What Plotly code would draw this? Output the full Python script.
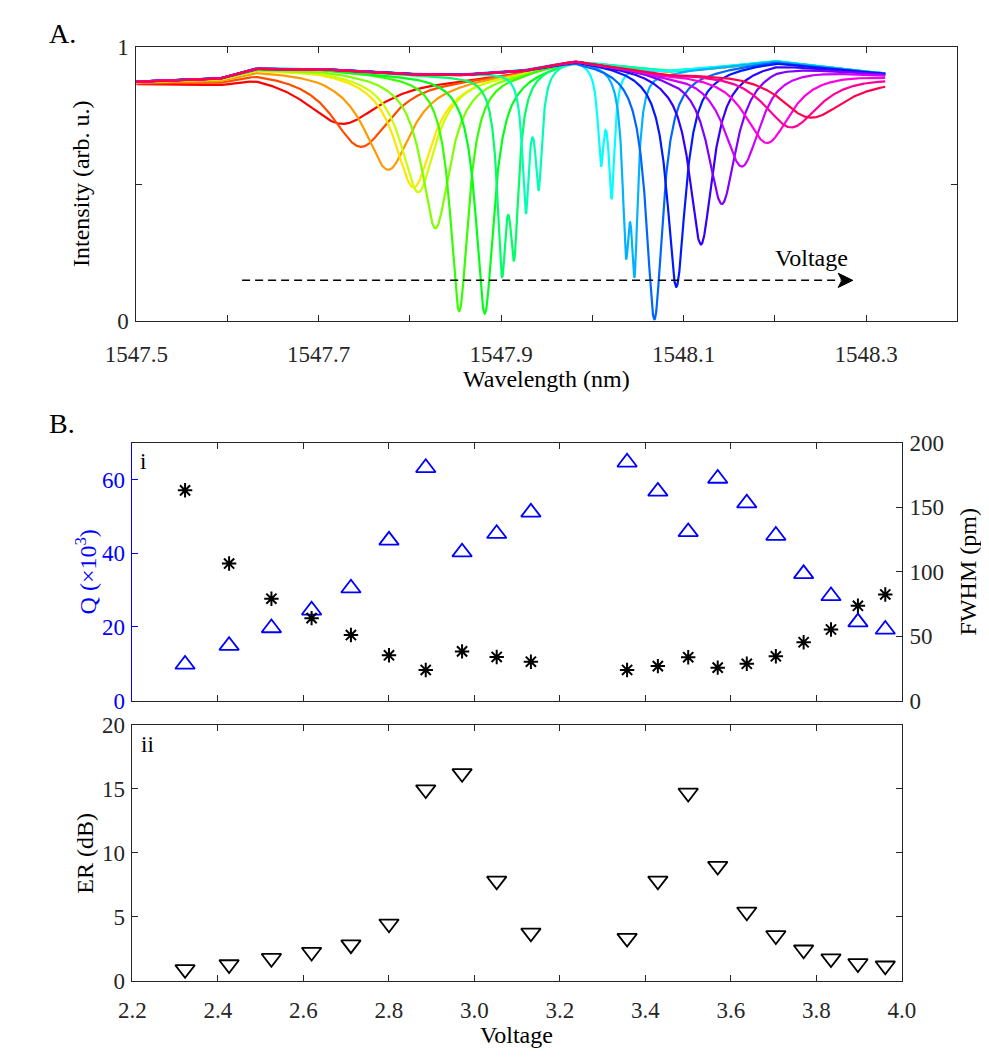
import colorsys
import numpy as np
import plotly.graph_objects as go

W, H = 989, 1057
FONT = "Liberation Serif"
AX = "#262626"
BLUE = "#0000ff"


def px(x):
    return x / W


def py(y):
    return 1 - y / H


# ---------------- Panel B data ----------------
voltage = [2.323, 2.426, 2.525, 2.619, 2.711, 2.800, 2.886, 2.971, 3.052, 3.132,
           3.357, 3.429, 3.500, 3.569, 3.637, 3.705, 3.770, 3.834, 3.897, 3.961]
q_factor = [9.8, 14.9, 19.7, 24.5, 30.5, 43.5, 63.2, 40.3, 45.3, 51.1,
            64.7, 56.8, 45.8, 60.3, 53.6, 44.8, 34.4, 28.4, 21.3, 19.3]
fwhm_pm = [163.1, 106.3, 79.0, 63.9, 50.8, 35.1, 23.7, 38.1, 33.8, 30.1,
           23.7, 26.7, 33.6, 25.5, 28.5, 34.3, 45.2, 55.1, 73.5, 82.3]
er_db = [0.89, 1.27, 1.76, 2.24, 2.82, 4.45, 14.94, 16.21, 7.81, 3.74,
         3.33, 7.81, 14.68, 8.96, 5.39, 3.54, 2.42, 1.73, 1.35, 1.17]

# ---------------- Panel A data (resonance dips) ----------------
dip_center = [1547.725, 1547.746, 1547.776, 1547.804, 1547.809, 1547.828, 1547.854, 1547.882,
              1547.901, 1547.927, 1548.0094, 1548.037, 1548.068, 1548.092, 1548.119, 1548.142,
              1548.164, 1548.192, 1548.217, 1548.238]
dip_min = [0.72, 0.636, 0.552, 0.487, 0.47, 0.338, 0.035, 0.026, 0.16, 0.39,
           0.564, 0.225, 0.005, 0.124, 0.279, 0.427, 0.564, 0.65, 0.707, 0.743]
dip_width = [0.105, 0.080, 0.063, 0.050, 0.046, 0.038, 0.024, 0.024, 0.012, 0.009,
             0.008, 0.009, 0.022, 0.024, 0.031, 0.038, 0.050, 0.065, 0.080, 0.100]
split_center = [None] * 8 + [1547.914, 1547.941, 1548.021, 1548.046] + [None] * 8
split_min = [None] * 8 + [0.22, 0.475, 0.445, 0.157] + [None] * 8
baseline_wl = [1547.50, 1547.59, 1547.63, 1547.70, 1547.78, 1547.85, 1547.92, 1547.98,
               1548.03, 1548.08, 1548.13, 1548.20, 1548.26, 1548.32]
baseline_I = [0.875, 0.885, 0.922, 0.922, 0.905, 0.900, 0.915, 0.955,
              0.935, 0.915, 0.925, 0.950, 0.925, 0.905]
wl_start, wl_end = 1547.5, 1548.321

a_ticks = [1547.5, 1547.7, 1547.9, 1548.1, 1548.3]
a_ticktext = ["1547.5", "1547.7", "1547.9", "1548.1", "1548.3"]
v_ticks = [2.2, 2.4, 2.6, 2.8, 3.0, 3.2, 3.4, 3.6, 3.8, 4.0]

# ---------------- build spectra ----------------
wl = np.linspace(wl_start, wl_end, 2200)
base = np.interp(wl, baseline_wl, baseline_I)


def lor(x, c, fw):
    g = fw / 2.0
    return g * g / ((x - c) ** 2 + g * g)


fig = go.Figure()
n = len(dip_center)
for i in range(n):
    dips = [(dip_center[i], dip_min[i], dip_width[i])]
    if split_center[i] is not None:
        dips.append((split_center[i], split_min[i], dip_width[i]))
    amps = [1 - m / np.interp(c, baseline_wl, baseline_I) for c, m, w in dips]
    for _ in range(30):
        new = []
        for k, (c, m, w) in enumerate(dips):
            other = 1.0
            for j, (c2, m2, w2) in enumerate(dips):
                if j != k:
                    other *= 1 - amps[j] * lor(c, c2, w2)
            new.append(min(0.999, 1 - (m / np.interp(c, baseline_wl, baseline_I)) / other))
        amps = new
    y = base.copy()
    for (c, m, w), a in zip(dips, amps):
        y = y * (1 - a * lor(wl, c, w))
    r, g, b = colorsys.hsv_to_rgb(i / n, 1.0, 1.0)
    col = f"rgb({int(r * 255)},{int(g * 255)},{int(b * 255)})"
    fig.add_trace(go.Scatter(x=wl, y=y, mode="lines", line=dict(color=col, width=2.2),
                             xaxis="x", yaxis="y", showlegend=False, hoverinfo="skip"))

# ---------------- panel B traces ----------------
fig.add_trace(go.Scatter(x=voltage, y=q_factor, mode="markers", xaxis="x2", yaxis="y2",
                         marker=dict(symbol="triangle-up-open", size=17, color=BLUE,
                                     line=dict(width=1.8, color=BLUE)),
                         showlegend=False))
fig.add_trace(go.Scatter(x=voltage, y=fwhm_pm, mode="markers", xaxis="x2", yaxis="y3",
                         marker=dict(symbol="asterisk-open", size=12, color="black",
                                     line=dict(width=2, color="black")),
                         showlegend=False))
fig.add_trace(go.Scatter(x=voltage, y=er_db, mode="markers", xaxis="x3", yaxis="y4",
                         marker=dict(symbol="triangle-down-open", size=17, color="black",
                                     line=dict(width=1.8, color="black")),
                         showlegend=False))

tickfont = dict(family=FONT, size=23, color=AX)
common = dict(showline=True, linecolor=AX, linewidth=1, ticks="inside", ticklen=6,
              tickcolor=AX, showgrid=False, zeroline=False, tickfont=tickfont)

fig.update_layout(
    width=W, height=H, margin=dict(l=0, r=0, t=0, b=0),
    plot_bgcolor="white", paper_bgcolor="white",
    xaxis=dict(domain=[px(101), px(962)], range=[1547.5, 1548.4], anchor="y",
               tickvals=a_ticks, ticktext=a_ticktext, mirror="ticks",
               minor=dict(ticks="inside", ticklen=6, tickcolor=AX, tick0=1547.5, dtick=0.1,
                          showgrid=False),
               ticklabelstandoff=13, **common),
    yaxis=dict(domain=[py(308), py(28)], range=[0, 1], anchor="x",
               tickvals=[0, 1], ticktext=["0", "1"], mirror="ticks",
               minor=dict(ticks="inside", ticklen=6, tickcolor=AX, tick0=0, dtick=0.5,
                          showgrid=False),
               ticklabelstandoff=2, **common),
    xaxis2=dict(domain=[px(97), px(904)], range=[2.2, 4.0], anchor="y2",
                tickvals=v_ticks, showticklabels=False, mirror="ticks", **common),
    yaxis2=dict(domain=[py(697), py(433)], range=[0, 70], anchor="x2",
                tickvals=[0, 20, 40, 60], showline=True, linecolor=BLUE, linewidth=1,
                ticks="inside", ticklen=6, tickcolor=BLUE, showgrid=False, zeroline=False,
                ticklabelstandoff=2,
                tickfont=dict(family=FONT, size=23, color=BLUE)),
    yaxis3=dict(range=[0, 200], overlaying="y2", side="right", anchor="x2",
                tickvals=[0, 50, 100, 150, 200], ticklabelstandoff=2, **common),
    xaxis3=dict(domain=[px(97), px(904)], range=[2.2, 4.0], anchor="y4",
                tickvals=v_ticks, tickformat=".1f", mirror="ticks",
                ticklabelstandoff=9, **common),
    yaxis4=dict(domain=[py(984), py(722)], range=[0, 20], anchor="x3",
                tickvals=[0, 5, 10, 15, 20], mirror="ticks", ticklabelstandoff=2, **common),
)

# dashed arrow in panel A (dashed shaft + filled head)
fig.add_shape(type="line", xref="x", yref="y", x0=1547.616, x1=1548.272, y0=0.1476, y1=0.1476,
              line=dict(color="black", width=1.5, dash="8px,5px"))
fig.add_shape(type="path", xref="x", yref="y",
              path="M 1548.2855 0.1476 L 1548.2695 0.1736 L 1548.2735 0.1476 L 1548.2695 0.1216 Z",
              fillcolor="black", line=dict(color="black", width=1))


def label(text, x, y, size=24, color="black", angle=0, xanchor="center"):
    fig.add_annotation(x=px(x), y=py(y), xref="paper", yref="paper", text=text,
                       showarrow=False, textangle=angle, xanchor=xanchor, yanchor="middle",
                       font=dict(family=FONT, size=size, color=color))


label("Voltage", 809, 244, size=24)
label("A.", 24, 14, size=28)
label("B.", 23, 413, size=28)
label("i", 108, 452, size=23)
label("ii", 113, 742, size=23)
label("Intensity (arb. u.)", 43, 168, angle=-90)
label("Wavelength (nm)", 531, 368)
label("Q (×10<sup>3</sup>)", 48, 565, color=BLUE, angle=-90)
label("FWHM (pm)", 973, 565, angle=-90)
label("ER (dB)", 47, 853, angle=-90)
label("Voltage", 500, 1040)

fig.write_html("out.html")
